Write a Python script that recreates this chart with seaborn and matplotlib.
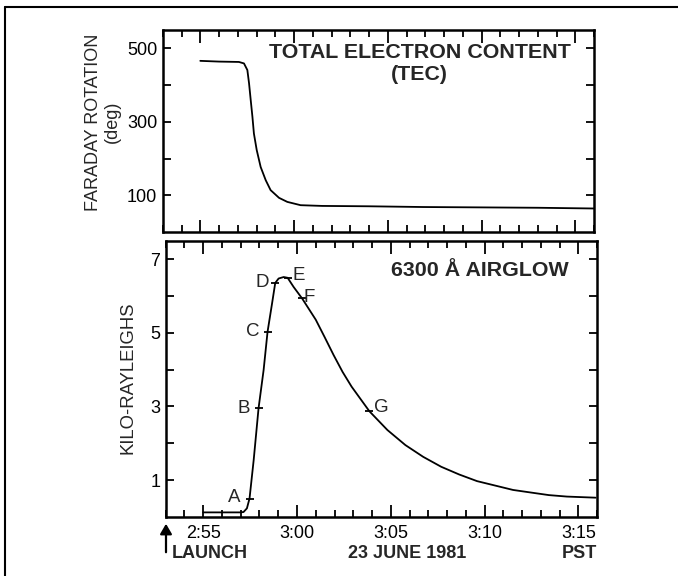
import numpy as np
import matplotlib
matplotlib.use("Agg")
import matplotlib.pyplot as plt
import seaborn as sns
from matplotlib.ticker import MultipleLocator, FixedLocator, NullFormatter

# minutes relative to 3:00 PST
tec_t = [-5.0, -4.0, -2.94, -2.67, -2.49, -2.40, -2.31, -2.22, -2.14, -1.99,
         -1.78, -1.51, -1.25, -0.80, -0.36, 0.35, 1.5, 4.0, 6.9, 10.0, 13.0, 16.0]
tec_v = [466, 464, 463, 459, 441, 405, 359, 314, 268, 223,
         177, 141, 114, 93, 82, 73, 71, 70, 68, 67, 66, 64]

glow_t = [-5.0, -4.0, -3.02, -2.85, -2.67, -2.53, -2.31, -2.05, -1.78, -1.57,
          -1.33, -1.16, -0.98, -0.71, -0.50, -0.18, 0.27, 1.0, 1.47, 1.95,
          2.43, 2.91, 3.86, 4.82, 5.78, 6.73, 7.69, 8.65, 9.6, 10.56, 11.52,
          12.47, 13.43, 14.39, 15.92]
glow_v = [0.12, 0.12, 0.12, 0.13, 0.23, 0.5, 1.54, 2.95, 3.99, 5.03,
          5.80, 6.36, 6.48, 6.52, 6.50, 6.25, 5.94, 5.36, 4.89, 4.40,
          3.94, 3.54, 2.87, 2.36, 1.95, 1.63, 1.36, 1.15, 0.97, 0.85, 0.73,
          0.66, 0.59, 0.55, 0.52]

mark_names = ["A", "B", "C", "D", "E", "F", "G"]
mark_t = [-2.53, -2.05, -1.57, -1.16, -0.50, 0.27, 3.86]
mark_v = [0.48, 2.95, 5.03, 6.36, 6.50, 5.94, 2.87]
# label offsets in pixels from the marked point
mark_dx = [-15, -15, -15, -13, 11, 7, 12]
mark_dy = [2, 0, 0, 0, 2, 1, 4]

xticks_min = [-5, 0, 5, 10, 15]
xtick_labels = ["2:55", "3:00", "3:05", "3:10", "3:15"]

W, H = 678, 576


def fx(px):
    return px / W


def fy(py):
    return 1 - py / H


sns.set_style("ticks")
plt.rcParams['font.family'] = ['Liberation Sans', 'DejaVu Sans']

fig = plt.figure(figsize=(6.78, 5.76), dpi=100)
ax1 = fig.add_axes([fx(162.8), fy(232), fx(594) - fx(162.8), fy(30) - fy(232)])
ax2 = fig.add_axes([fx(165.7), fy(516.8), fx(597.1) - fx(165.7), fy(241) - fy(516.8)])

sns.lineplot(x=tec_t, y=tec_v, ax=ax1, color="black", lw=1.3)
sns.lineplot(x=glow_t, y=glow_v, ax=ax2, color="black", lw=1.3)

for ax in (ax1, ax2):
    ax.set_xlim(-7, 16)
    ax.xaxis.set_major_locator(FixedLocator(xticks_min))
    ax.xaxis.set_minor_locator(MultipleLocator(1))
    ax.tick_params(axis="both", which="both", direction="in", top=True, right=True,
                   width=1.3, labelsize=13, colors="black")
    ax.tick_params(axis="x", which="major", length=9, pad=6)
    ax.tick_params(axis="x", which="minor", length=5)
    ax.tick_params(axis="y", which="both", length=6, pad=4)
    for s in ax.spines.values():
        s.set_linewidth(1.8)
        s.set_color("black")
    ax.set_xlabel("")

ax1.set_ylim(0, 550)
ax1.yaxis.set_major_locator(FixedLocator([100, 300, 500]))
ax1.yaxis.set_minor_locator(FixedLocator([200, 400]))
ax1.xaxis.set_major_formatter(NullFormatter())

ax2.set_ylim(0, 7.5)
ax2.yaxis.set_major_locator(FixedLocator([1, 3, 5, 7]))
ax2.yaxis.set_minor_locator(FixedLocator([2, 4, 6]))
ax2.set_xticklabels(xtick_labels)

# labelled points A..G
ax2.plot(mark_t, mark_v, ls="none", marker="_", ms=6, mew=1.3, color="black")
for name, t, v, dx, dy in zip(mark_names, mark_t, mark_v, mark_dx, mark_dy):
    ax2.annotate(name, (t, v), xytext=(dx, dy), textcoords="offset pixels",
                 ha="center", va="center", fontsize=13.5)

# panel titles
fig.text(fx(419.5), fy(53), "TOTAL ELECTRON CONTENT", ha="center", va="center",
         fontsize=15.4, fontweight="bold")
fig.text(fx(419.5), fy(75), "(TEC)", ha="center", va="center",
         fontsize=15.4, fontweight="bold")
fig.text(fx(479.5), fy(270), "6300 Å AIRGLOW", ha="center", va="center",
         fontsize=15.4, fontweight="bold")

# axis labels
fig.text(fx(103), fy(122), "FARADAY ROTATION\n(deg)", rotation=90, ha="center",
         va="center", multialignment="center", fontsize=13, linespacing=1.15)
fig.text(fx(128), fy(378), "KILO-RAYLEIGHS", rotation=90, ha="center",
         va="center", fontsize=13.3)

# bottom captions
fig.text(fx(172), fy(554), "LAUNCH", ha="left", va="center", fontsize=13,
         fontweight="bold")
fig.text(fx(406.9), fy(554), "23 JUNE 1981", ha="center", va="center",
         fontsize=13, fontweight="bold")
fig.text(fx(597), fy(554), "PST", ha="right", va="center", fontsize=13,
         fontweight="bold")
fig.patches.append(matplotlib.patches.FancyArrowPatch(
    (fx(166), fy(555)), (fx(166), fy(521)), transform=fig.transFigure,
    arrowstyle="-|>,head_length=6,head_width=3.5", color="black", lw=1.6))

# frame lines at the scan edge
fig.add_artist(plt.Line2D([fx(5), fx(5)], [0, fy(7)], transform=fig.transFigure,
                          color="black", lw=1.5))
fig.add_artist(plt.Line2D([fx(5), 1], [fy(7), fy(7)], transform=fig.transFigure,
                          color="black", lw=1.5))

fig.savefig("out.png", dpi=100)
